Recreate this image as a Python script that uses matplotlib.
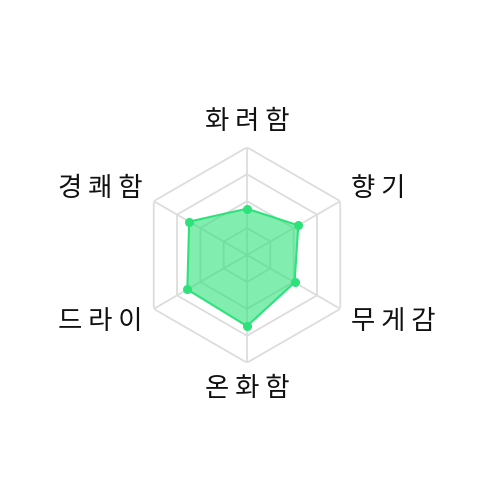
import numpy as np
import matplotlib
matplotlib.use("Agg")
import matplotlib.pyplot as plt

plt.rcParams['font.family'] = ['Noto Sans CJK KR', 'DejaVu Sans']

# dati
labels = ["화려함", "향기", "무게감", "온화함", "드라이", "경쾌함"]
values = [43, 55, 51, 66, 64, 62]
levels = [25, 50, 75, 100]
rmax = 100

line_color = "#2ee27b"
grid_color = "#dddddd"

n = len(labels)
theta = np.arange(n) * 2 * np.pi / n

fig = plt.figure(figsize=(5, 5), dpi=100)
ax = fig.add_axes([0.2786, 0.2746, 0.4308, 0.4308], projection="polar")
ax.set_theta_zero_location("N")
ax.set_theta_direction(-1)
ax.set_ylim(0, rmax)
ax.grid(False)
ax.spines["polar"].set_visible(False)
ax.set_xticks([])
ax.set_yticks([])
ax.patch.set_alpha(0)

# griglia esagonale
th_closed = np.append(theta, theta[0])
for lv in levels:
    ax.plot(th_closed, [lv] * (n + 1), color=grid_color, lw=1.3, zorder=1)
for t in theta:
    ax.plot([t, t], [0, rmax], color=grid_color, lw=1.3, zorder=1)

# serie
vals_closed = np.append(values, values[0])
ax.fill(th_closed, vals_closed, color=line_color, alpha=0.6, lw=0, zorder=2)
ax.plot(th_closed, vals_closed, color=line_color, lw=1.5, zorder=3)
ax.plot(theta, values, "o", color=line_color, markersize=5.5, zorder=4)

# etichette: spostate in pixel dal vertice esterno
for t, lab in zip(theta, labels):
    s = " ".join(lab)
    sx, sy = np.sin(t), np.cos(t)
    if abs(sx) < 0.01:
        va = "bottom" if sy > 0 else "top"
        ha, dx, dy = "center", 0, 12 * np.sign(sy)
    else:
        ha = "left" if sx > 0 else "right"
        va = "center"
        dx, dy = 11 * np.sign(sx), 13 * np.sign(sy)
    ax.annotate(s, xy=(t, rmax), xytext=(dx, dy), textcoords="offset pixels",
                ha=ha, va=va, fontsize=19, fontweight="light", color="#111111")

fig.savefig("out.png", dpi=100)
